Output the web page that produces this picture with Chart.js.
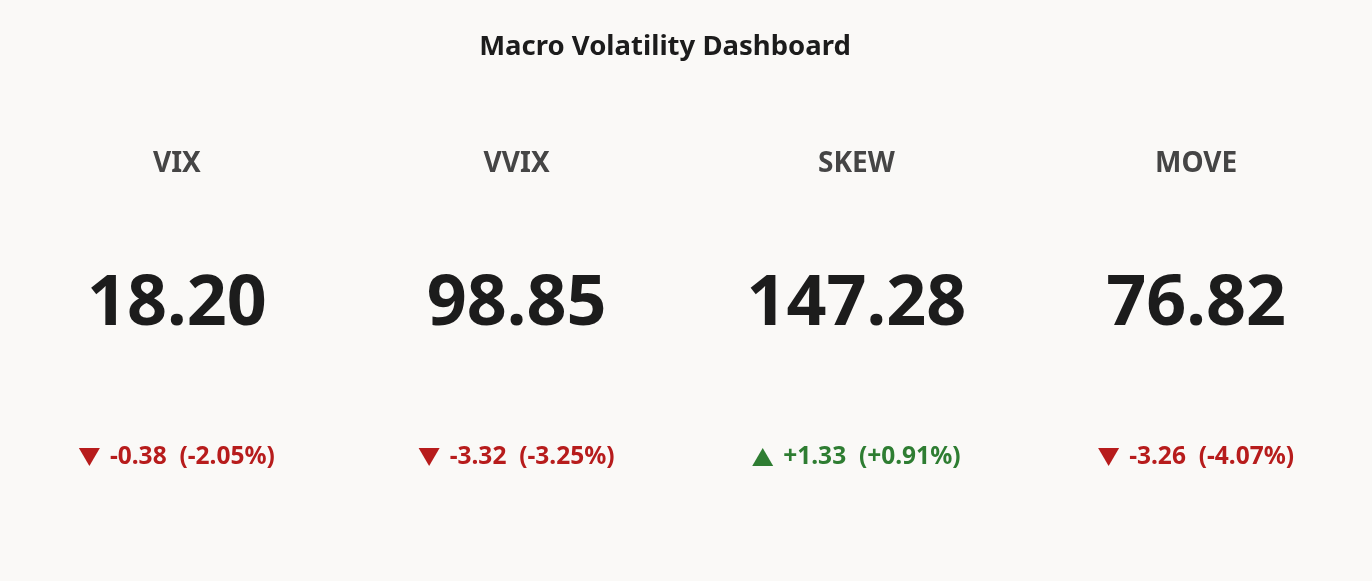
<!DOCTYPE html>
<html><head><meta charset="utf-8">
<script src="https://cdn.jsdelivr.net/npm/chart.js@4"></script>
<style>html,body{margin:0;padding:0;background:#faf9f7;}#w{width:1372px;height:581px;}</style>
</head><body><div id="w"><canvas id="c"></canvas></div>
<script>
const categories = ["VIX","VVIX","SKEW","MOVE"];
const values = [18.20, 98.85, 147.28, 76.82];
const changes = [-0.38, -3.32, 1.33, -3.26];
const changePct = [-2.05, -3.25, 0.91, -4.07];
const titleText = 'Macro Volatility Dashboard';

const FONT = "'Noto Sans', 'Open Sans', sans-serif";
const kpiPlugin = {
  id: 'kpi',
  afterDatasetsDraw(chart) {
    const ctx = chart.ctx, xs = chart.scales.x;
    ctx.save();
    ctx.textAlign = 'center'; ctx.textBaseline = 'middle';
    ctx.fillStyle = '#1c1c1c';
    ctx.font = `bold 27.5px ${FONT}`;
    ctx.fillText(titleText, 665, 47);
    categories.forEach((c, i) => {
      const x = xs.getPixelForValue(i);
      ctx.textAlign = 'center';
      ctx.fillStyle = '#454545';
      ctx.font = `bold 28px ${FONT}`;
      ctx.fillText(c, x, 164);
      ctx.fillStyle = '#1c1c1c';
      ctx.font = `bold 70px ${FONT}`;
      ctx.fillText(values[i].toFixed(2), x, 305);
      const up = changes[i] >= 0;
      const s = up ? '+' : '';
      ctx.fillStyle = up ? '#2e7d32' : '#b71c1c';
      ctx.font = `bold 24.5px ${FONT}`;
      const txt = `${s}${changes[i].toFixed(2)}  (${s}${changePct[i].toFixed(2)}%)`;
      const tw = ctx.measureText(txt).width, triW = 21, gap = 10;
      const left = x - (tw + triW + gap) / 2;
      const y = 457;
      ctx.beginPath();
      if (up) { ctx.moveTo(left, y + 9); ctx.lineTo(left + triW, y + 9); ctx.lineTo(left + triW / 2, y - 9); }
      else { ctx.moveTo(left, y - 9); ctx.lineTo(left + triW, y - 9); ctx.lineTo(left + triW / 2, y + 9); }
      ctx.closePath(); ctx.fill();
      ctx.textAlign = 'left';
      ctx.fillText(txt, left + triW + gap, y);
    });
    ctx.restore();
  }
};
new Chart(document.getElementById('c'), {
  type: 'bar',
  data: { labels: categories, datasets: [{ data: values, backgroundColor: 'rgba(0,0,0,0)' }] },
  options: {
    responsive: true, maintainAspectRatio: false, animation: false,
    layout: { padding: { left: 7, right: 6, top: 80, bottom: 0 } },
    plugins: { legend: { display: false }, tooltip: { enabled: false }, title: { display: false } },
    scales: { x: { display: false }, y: { display: false, min: 0, max: 1000 } }
  },
  plugins: [kpiPlugin]
});
</script></body></html>
